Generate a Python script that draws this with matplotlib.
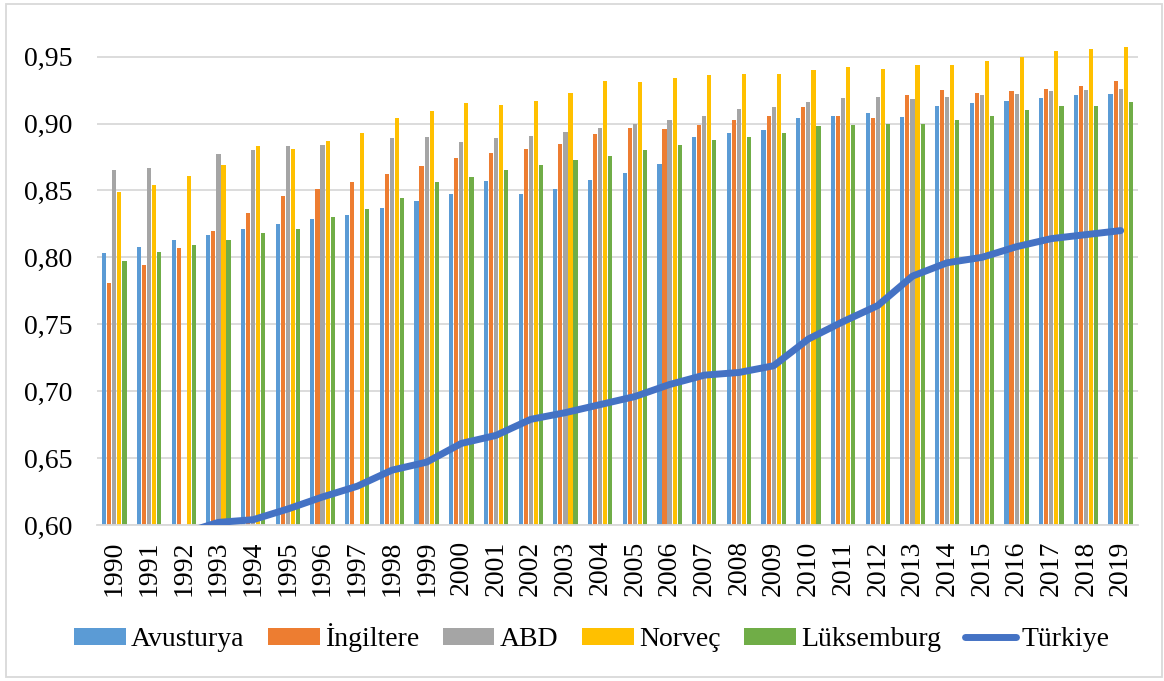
import numpy as np
import matplotlib
matplotlib.use("Agg")
import matplotlib.pyplot as plt
from matplotlib.patches import Rectangle

plt.rcParams['font.family'] = ['Liberation Serif', 'DejaVu Serif']

years = list(range(1990, 2020))
nan = np.nan

avusturya = [0.803, 0.808, 0.813, 0.817, 0.821, 0.825, 0.829, 0.832, 0.837, 0.842,
             0.847, 0.857, 0.847, 0.851, 0.858, 0.863, 0.870, 0.890, 0.893, 0.895,
             0.904, 0.906, 0.908, 0.905, 0.913, 0.915, 0.917, 0.919, 0.921, 0.922]
ingiltere = [0.781, 0.794, 0.807, 0.820, 0.833, 0.846, 0.851, 0.856, 0.862, 0.868,
             0.874, 0.878, 0.881, 0.885, 0.892, 0.897, 0.896, 0.899, 0.903, 0.906,
             0.912, 0.906, 0.904, 0.921, 0.925, 0.923, 0.924, 0.926, 0.928, 0.932]
abd = [0.865, 0.867, nan, 0.877, 0.880, 0.883, 0.884, nan, 0.889, 0.890,
       0.886, 0.889, 0.891, 0.894, 0.897, 0.900, 0.903, 0.906, 0.911, 0.912,
       0.916, 0.919, 0.920, 0.918, 0.920, 0.921, 0.922, 0.924, 0.925, 0.926]
norvec = [0.849, 0.854, 0.861, 0.869, 0.883, 0.881, 0.887, 0.893, 0.904, 0.909,
          0.915, 0.914, 0.917, 0.923, 0.932, 0.931, 0.934, 0.936, 0.937, 0.937,
          0.940, 0.942, 0.941, 0.944, 0.944, 0.947, 0.950, 0.954, 0.956, 0.957]
luksemburg = [0.797, 0.804, 0.809, 0.813, 0.818, 0.821, 0.830, 0.836, 0.844, 0.856,
              0.860, 0.865, 0.869, 0.873, 0.876, 0.880, 0.884, 0.888, 0.890, 0.893,
              0.898, 0.899, 0.900, 0.900, 0.903, 0.906, 0.910, 0.913, 0.913, 0.916]
turkiye = [0.583, 0.588, 0.594, 0.602, 0.604, 0.612, 0.621, 0.629, 0.641, 0.647,
           0.661, 0.667, 0.679, 0.684, 0.690, 0.696, 0.705, 0.712, 0.714, 0.719,
           0.739, 0.752, 0.764, 0.786, 0.796, 0.800, 0.808, 0.814, 0.817, 0.820]

series = [("Avusturya", avusturya, "#5B9BD5"),
          ("İngiltere", ingiltere, "#ED7D31"),
          ("ABD", abd, "#A5A5A5"),
          ("Norveç", norvec, "#FFC000"),
          ("Lüksemburg", luksemburg, "#70AD47")]

fig = plt.figure(figsize=(11.64, 6.81), dpi=100)
ax = fig.add_axes([0.0833, 0.229, 0.8944, 0.737])

x = np.arange(len(years))
slot = 0.146
handles = []
for i, (name, vals, col) in enumerate(series):
    b = ax.bar(x + (i - 2) * slot, vals, width=0.12, color=col, label=name, zorder=2)
    handles.append(b)

ln, = ax.plot(x, turkiye, color="#4472C4", lw=5, label="Türkiye", zorder=3,
              solid_joinstyle='round', solid_capstyle='round')
handles.append(ln)

ax.set_ylim(0.60, 0.975)
ax.set_xlim(-0.5, len(years) - 0.5)
ticks = np.arange(0.60, 0.951, 0.05)
ax.set_yticks(ticks)
ax.set_yticklabels([f"{v:.2f}".replace(".", ",") for v in ticks])
ax.set_xticks(x)
ax.set_xticklabels([str(y) for y in years], rotation=90)
ax.tick_params(axis='y', length=0, pad=17.5, labelsize=20)
ax.tick_params(axis='x', length=0, pad=11, labelsize=20)
ax.grid(axis='y', color="#D9D9D9", lw=1.3, zorder=0)
ax.set_axisbelow(True)
for s in ['top', 'right', 'left']:
    ax.spines[s].set_visible(False)
ax.spines['bottom'].set_color("#D9D9D9")
ax.spines['bottom'].set_linewidth(1.3)

ax.legend(handles=handles, loc='center', bbox_to_anchor=(0.4755, -0.225), ncol=6,
          frameon=False, fontsize=20, handlelength=1.85, handleheight=0.55,
          handletextpad=0.2, columnspacing=0.85, borderaxespad=0)

# chart border
fig.patches.append(Rectangle((6 / 1164, 4 / 681), 1 - 8 / 1164, 1 - 8 / 681,
                             transform=fig.transFigure, fill=False,
                             edgecolor="#D9D9D9", lw=1.3))

fig.savefig("out.png", dpi=100)
